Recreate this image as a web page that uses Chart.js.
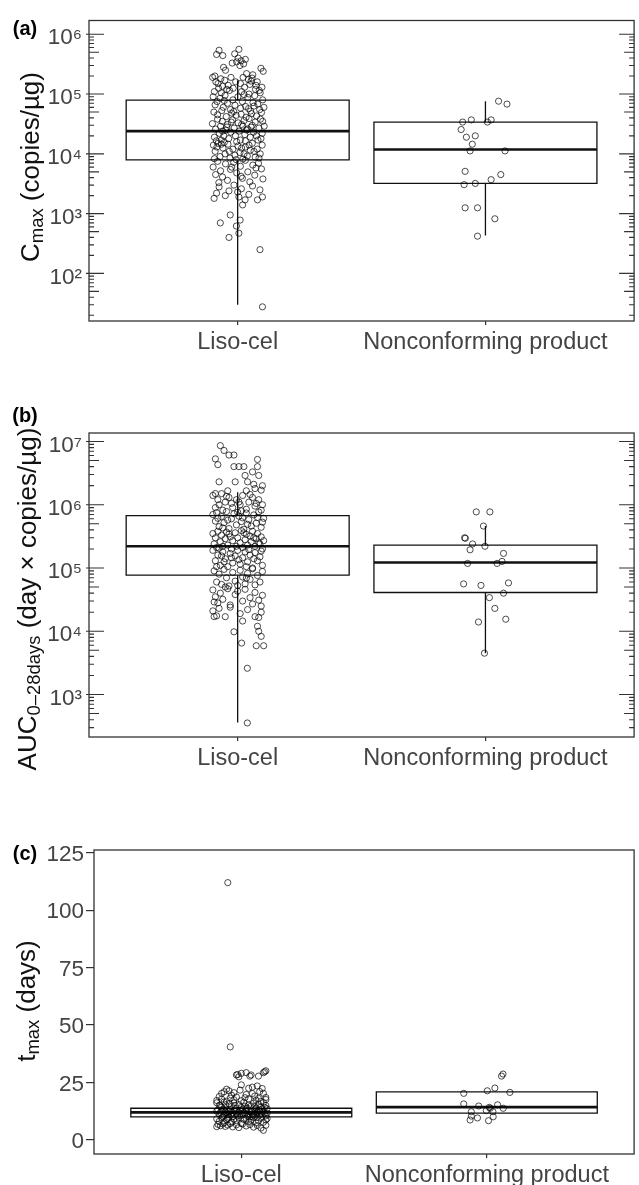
<!DOCTYPE html>
<html><head><meta charset="utf-8">
<script src="https://cdn.jsdelivr.net/npm/chart.js@4.4.1/dist/chart.umd.min.js"></script>
<style>
html,body{margin:0;padding:0;background:#fff;}
body{width:639px;height:1185px;position:relative;overflow:hidden;font-family:"Liberation Sans",Arial,sans-serif;}
.pc{position:absolute;left:0;width:639px;}
.pc canvas{display:block;}
.lab{position:absolute;font-weight:bold;font-size:20px;color:#000;transform:translate(-50%,-50%);line-height:1;white-space:nowrap;}
.ytitle{position:absolute;white-space:nowrap;font-size:26px;color:#111;transform:translate(-50%,-50%) rotate(-90deg);line-height:1;}
.ytitle sub{font-size:0.71em;vertical-align:-4px;line-height:0;}
</style></head>
<body>
<div class="pc" style="top:0;height:370px"><canvas id="cA" width="639" height="370" style="width:639px;height:370px"></canvas></div>
<div class="pc" style="top:370px;height:410px"><canvas id="cB" width="639" height="410" style="width:639px;height:410px"></canvas></div>
<div class="pc" style="top:780px;height:405px"><canvas id="cC" width="639" height="405" style="width:639px;height:405px"></canvas></div>

<div class="lab" style="left:25px;top:28px">(a)</div>
<div class="lab" style="left:25px;top:415px">(b)</div>
<div class="lab" style="left:25px;top:853px">(c)</div>

<div class="ytitle" style="left:30px;top:167px">C<sub>max</sub> (copies/µg)</div>
<div class="ytitle" style="left:27px;top:599px">AUC<sub>0–28days</sub> (day × copies/µg)</div>
<div class="ytitle" style="left:26px;top:1001px">t<sub>max</sub> (days)</div>

<script>
// ---------------- data ----------------
const categories = ['Liso-cel', 'Nonconforming product'];
const categoryPositions = [1, 2];

const cmaxMajorTicks = [1e2, 1e3, 1e4, 1e5, 1e6];
const aucMajorTicks = [1e3, 1e4, 1e5, 1e6, 1e7];
const tmaxTicks = [0, 25, 50, 75, 100, 125];

const cmaxRange = [16, 1.7e6];
const aucRange = [213, 1.36e7];
const tmaxRange = [-6.1, 126.2];

// box statistics: [lower whisker, Q1, median, Q3, upper whisker]
const cmaxBoxLiso = [30, 7.9e3, 2.4e4, 7.9e4, 1.7e5];
const cmaxBoxNon = [430, 3.2e3, 1.18e4, 3.4e4, 7.6e4];
const aucBoxLiso = [360, 7.7e4, 2.2e5, 6.7e5, 1.57e6];
const aucBoxNon = [4.5e3, 4.1e4, 1.22e5, 2.3e5, 4.6e5];
const tmaxBoxLiso = [null, 10.1, 12.0, 13.8, null];
const tmaxBoxNon = [null, 11.7, 14.3, 20.9, null];

// jittered observations: [horizontal jitter (category units), value]
const cmaxLiso = [
[-0.075,5.4e5],[-0.085,4.6e5],[-0.060,4.4e5],[0.005,5.6e5],[-0.012,4.7e5],[0.002,4.0e5],[0.014,3.6e5],[-0.022,3.3e5],[0.031,3.8e5],[0.024,3.2e5],[0.009,3.0e5],[-0.004,3.45e5],
[-0.057,2.8e5],[-0.049,2.5e5],[0.094,2.7e5],[0.103,2.4e5],[0.036,2.2e5],[-0.092,2.0e5],[0.061,2.1e5],
[-0.101,1.9e5],[-0.088,1.6e5],[-0.079,1.5e5],[-0.068,1.8e5],[-0.061,1.35e5],[-0.052,1.7e5],[-0.038,1.4e5],[-0.027,1.9e5],[-0.018,1.25e5],[-0.008,1.6e5],
[0.011,1.5e5],[0.022,1.9e5],[0.028,1.3e5],[0.043,1.75e5],[0.049,1.45e5],[0.058,1.85e5],[0.072,1.2e5],[0.079,1.6e5],[0.091,1.05e5],[0.098,1.3e5],
[-0.094,1.1e5],[-0.066,1.05e5],[-0.033,1.15e5],[0.016,1.1e5],[0.046,1.0e5],[0.074,1.4e5],[0.087,1.15e5],[-0.044,1.2e5],[-0.077,1.25e5],[0.054,1.65e5],
[-0.099,9e4],[-0.083,7.5e4],[-0.071,8.5e4],[-0.058,6e4],[-0.051,9.5e4],[-0.041,7e4],[-0.029,5.5e4],[-0.019,8e4],[-0.011,6.5e4],[0.001,9e4],
[0.012,5.8e4],[0.019,7.5e4],[0.032,6.2e4],[0.041,8.8e4],[0.052,5.2e4],[0.062,7.2e4],[0.069,9.4e4],[0.081,6.8e4],[0.089,5.5e4],[0.101,8e4],
[-0.096,5e4],[-0.081,4.5e4],[-0.064,5.3e4],[-0.046,4.2e4],[-0.024,4.8e4],[-0.006,4.4e4],[0.014,4.6e4],[0.034,4.1e4],[0.056,4.7e4],[0.076,4.3e4],
[0.096,4.9e4],[0.106,6e4],[-0.054,7.8e4],[0.026,9.8e4],[0.066,6.3e4],[-0.016,5.1e4],[0.044,5.7e4],[-0.091,6.6e4],
[-0.102,3.2e4],[-0.089,2.6e4],[-0.081,3.8e4],[-0.074,2.2e4],[-0.069,2.9e4],[-0.062,3.5e4],[-0.056,2.0e4],[-0.048,2.5e4],[-0.041,3.1e4],[-0.036,1.8e4],
[-0.028,2.3e4],[-0.021,3.7e4],[-0.014,2.7e4],[-0.009,2.0e4],[0.002,3.3e4],[0.006,2.4e4],[0.011,1.7e4],[0.021,2.9e4],[0.026,3.6e4],[0.029,2.1e4],
[0.039,2.6e4],[0.046,3.9e4],[0.051,1.9e4],[0.059,3.0e4],[0.064,2.3e4],[0.071,3.4e4],[0.082,1.7e4],[0.086,2.7e4],[0.092,3.8e4],[0.099,2.2e4],
[0.107,2.9e4],[-0.094,1.9e4],[-0.086,1.65e4],[-0.066,1.7e4],[-0.044,2.8e4],[-0.026,3.4e4],[-0.004,1.6e4],[0.016,3.1e4],[0.036,2.5e4],[0.054,2.8e4],
[0.076,2.0e4],[0.094,1.8e4],[0.101,3.5e4],[-0.061,2.4e4],[0.031,1.65e4],
[-0.098,1.4e4],[-0.091,1.1e4],[-0.079,1.5e4],[-0.071,9e3],[-0.059,1.25e4],[-0.051,1.0e4],[-0.039,1.45e4],[-0.031,8.5e3],[-0.019,1.2e4],[-0.011,9.5e3],
[0.001,1.35e4],[0.009,1.05e4],[0.021,8.2e3],[0.031,1.3e4],[0.039,9.2e3],[0.051,1.15e4],[0.059,1.5e4],[0.071,8.8e3],[0.079,1.2e4],[0.091,1.0e4],
[0.099,1.4e4],[-0.094,8.3e3],[-0.084,1.3e4],[-0.066,1.45e4],[-0.034,1.1e4],[-0.006,8e3],[0.026,1.0e4],[0.046,1.4e4],[0.066,1.1e4],[0.086,8.5e3],
[-0.054,1.55e4],[0.016,1.25e4],
[-0.099,6e3],[-0.089,4.5e3],[-0.081,7.5e3],[-0.069,5.2e3],[-0.061,4.1e3],[-0.049,6.8e3],[-0.041,3.6e3],[-0.029,5.5e3],[-0.016,7.2e3],[-0.004,4.8e3],
[0.011,6.2e3],[0.019,3.9e3],[0.031,7.8e3],[0.041,5.0e3],[0.049,3.4e3],[0.061,6.5e3],[0.069,4.4e3],[0.084,7.0e3],[0.096,5.6e3],[0.102,3.8e3],
[-0.076,3.3e3],[0.014,4.2e3],[-0.024,6.0e3],[0.074,5.8e3],
[-0.095,1.8e3],[-0.085,2.2e3],[-0.075,2.8e3],[-0.050,2.0e3],[-0.035,2.4e3],[-0.015,3.0e3],[0.000,2.3e3],[0.005,1.9e3],[0.015,2.6e3],[0.030,1.7e3],
[0.045,2.1e3],[0.060,2.9e3],[0.080,1.7e3],[0.090,2.5e3],[0.100,1.9e3],[0.020,1.4e3],
[-0.030,950],[-0.070,700],[0.010,780],[-0.005,620],[0.005,470],[-0.035,400],[0.090,250],[0.100,27.6]
];
const cmaxNon = [
[0.053,7.6e4],[0.087,6.8e4],[-0.092,3.4e4],[-0.057,3.7e4],[0.008,3.4e4],[0.023,3.7e4],[-0.098,2.55e4],[-0.077,1.9e4],[-0.041,2.0e4],[-0.053,1.45e4],
[-0.062,1.12e4],[0.079,1.12e4],[-0.082,5.1e3],[0.062,4.5e3],[0.023,3.7e3],[-0.086,3.05e3],[-0.041,3.2e3],[-0.082,1.25e3],[-0.032,1.25e3],[0.038,820],[-0.032,420]
];

const aucLiso = [
[-0.070,8.6e6],[-0.055,7.2e6],[-0.035,6.1e6],[-0.015,6.1e6],[-0.090,5.3e6],[-0.080,4.3e6],[0.080,5.2e6],[-0.015,4.0e6],[0.005,4.0e6],[0.025,4.0e6],[0.080,4.0e6],[0.060,3.3e6],
[0.030,2.9e6],[0.085,2.9e6],[-0.075,2.3e6],[-0.010,2.3e6],[0.040,2.3e6],[0.100,2.0e6],[0.065,2.1e6],[0.035,1.66e6],[-0.040,1.66e6],[-0.090,1.5e6],[0.095,1.7e6],[0.070,1.8e6],
[-0.100,1.4e6],[-0.080,1.2e6],[-0.065,1.5e6],[-0.050,1.1e6],[-0.035,1.3e6],[-0.020,9e5],[-0.005,1.2e6],[0.010,1.0e6],[0.020,1.4e6],[0.035,8.5e5],
[0.045,1.1e6],[0.060,1.3e6],[0.070,9.5e5],[0.085,1.2e6],[0.095,8.2e5],[0.100,1.0e6],[-0.090,9e5],[-0.060,8.2e5],[-0.025,1.05e6],[0.015,8e5],
[0.050,1.45e6],[0.075,1.05e6],[-0.045,1.35e6],[0.005,1.1e6],[-0.075,1.0e6],
[-0.100,7e5],[-0.090,5.5e5],[-0.085,7.5e5],[-0.075,4.5e5],[-0.065,6.5e5],[-0.055,5.2e5],[-0.045,7.8e5],[-0.035,4.2e5],[-0.025,6e5],[-0.015,7.2e5],
[-0.005,4.8e5],[0.005,6.6e5],[0.015,5.4e5],[0.025,4.1e5],[0.035,7.4e5],[0.045,5.8e5],[0.055,4.6e5],[0.065,6.9e5],[0.075,5.1e5],[0.085,7.7e5],
[0.095,4.4e5],[0.105,6.1e5],[-0.080,6.1e5],[-0.040,5.7e5],[0.000,7.6e5],[0.040,4.9e5],[0.080,6.3e5],[-0.060,4.3e5],[0.020,6.2e5],[0.100,5.3e5],
[-0.100,3.5e5],[-0.095,2.4e5],[-0.090,3e5],[-0.085,2.1e5],[-0.080,3.8e5],[-0.070,2.6e5],[-0.065,3.3e5],[-0.060,2.2e5],[-0.050,2.9e5],[-0.045,3.7e5],
[-0.040,2.3e5],[-0.030,3.1e5],[-0.025,2.0e5],[-0.020,2.7e5],[-0.010,3.6e5],[-0.005,2.2e5],[0.000,3.0e5],[0.010,2.5e5],[0.015,3.9e5],[0.020,2.1e5],
[0.030,2.8e5],[0.035,3.4e5],[0.040,2.3e5],[0.050,3.2e5],[0.055,2.6e5],[0.060,3.8e5],[0.070,2.2e5],[0.075,2.9e5],[0.080,3.5e5],[0.090,2.4e5],
[0.095,3.1e5],[0.100,2.0e5],[0.105,2.7e5],[-0.075,2.05e5],[-0.035,3.45e5],[0.025,3.6e5],[0.065,3.0e5],[0.085,2.5e5],
[-0.100,1.9e5],[-0.090,1.3e5],[-0.080,1.6e5],[-0.070,1.1e5],[-0.060,1.8e5],[-0.050,1.4e5],[-0.040,1.05e5],[-0.030,1.7e5],[-0.020,1.2e5],[-0.010,1.55e5],
[0.000,1.9e5],[0.010,1.15e5],[0.020,1.45e5],[0.030,1.8e5],[0.040,1.25e5],[0.050,1.6e5],[0.060,1.0e5],[0.070,1.75e5],[0.080,1.3e5],[0.090,1.5e5],
[0.100,1.1e5],[-0.085,1.05e5],[-0.055,1.25e5],[-0.025,1.45e5],[0.005,1.35e5],[0.035,1.05e5],[0.065,1.4e5],[0.095,1.85e5],[-0.065,1.55e5],[0.045,1.95e5],
[-0.095,9e4],[-0.085,6e4],[-0.075,8e4],[-0.065,5.5e4],[-0.055,9.5e4],[-0.045,7e4],[-0.035,5.2e4],[-0.020,8.5e4],[-0.010,6.2e4],[0.000,5.3e4],
[0.010,9.2e4],[0.020,7.2e4],[0.030,5.6e4],[0.040,8.2e4],[0.050,6.6e4],[0.060,9.7e4],[0.070,5.4e4],[0.080,7.6e4],[0.090,6.0e4],[0.100,8.8e4],
[-0.050,5.0e4],[0.035,6.9e4],
[-0.100,4.5e4],[-0.090,3.5e4],[-0.080,2.8e4],[-0.070,4.0e4],[-0.060,3.2e4],[-0.040,4.7e4],[-0.030,2.6e4],[-0.010,3.8e4],[0.000,4.3e4],[0.020,3.0e4],
[0.030,4.6e4],[0.050,3.4e4],[0.060,2.7e4],[0.070,4.1e4],[0.085,3.1e4],[0.095,2.5e4],[0.100,3.7e4],[-0.095,2.9e4],
[-0.100,2.1e4],[-0.095,1.7e4],[-0.085,1.75e4],[-0.075,2.3e4],[-0.050,1.7e4],[-0.030,2.4e4],[0.010,1.9e4],[0.040,2.2e4],[0.070,1.7e4],[0.085,1.65e4],
[0.095,2.0e4],[0.020,1.45e4],
[-0.015,9.8e3],[0.080,1.2e4],[0.085,1.0e4],[0.095,8.3e3],[0.016,6.5e3],[0.075,5.9e3],[0.105,5.9e3],[0.039,2.6e3],[0.039,355]
];
const aucNon = [
[-0.037,7.7e5],[0.018,7.7e5],[-0.008,4.6e5],[-0.084,3.0e5],[-0.081,2.95e5],[-0.052,2.4e5],[-0.062,1.94e5],[-0.002,2.2e5],[0.073,1.7e5],[-0.072,1.18e5],
[0.047,1.18e5],[0.067,1.27e5],[-0.088,5.6e4],[-0.018,5.3e4],[0.093,5.8e4],[0.073,4.0e4],[0.016,3.4e4],[0.038,2.3e4],[-0.028,1.4e4],[0.082,1.55e4],[-0.004,4.5e3]
];

const tmaxLiso = [
[-0.055,112],[-0.045,40.5],
[-0.020,28.3],[0.000,29.0],[0.020,29.3],[-0.010,27.5],[0.040,28.3],[0.070,27.8],[0.100,30.1],[0.090,29.3],[-0.015,28.5],[0.035,27.8],[0.095,29.7],
[-0.080,20.3],[-0.070,21.0],[-0.050,21.4],[-0.030,20.6],[-0.005,21.7],[0.030,22.5],[0.045,20.2],[0.065,23.5],[0.075,21.1],[0.090,20.3],
[0.000,24.0],[-0.040,19.5],[-0.020,18.7],[0.055,19.1],[0.085,22.4],[-0.090,18.9],[0.020,19.8],[0.100,18.5],[-0.060,22.1],[0.045,23.0],
[-0.100,17.2],[-0.080,17.8],[-0.060,16.9],[-0.030,17.5],[0.000,17.1],[0.030,17.9],[0.060,17.3],[0.080,16.8],[0.100,17.6],[-0.045,18.2],[0.015,18.4],[0.070,18.1],
[-0.100,16.2],[-0.090,15.1],[-0.080,14.3],[-0.070,16.5],[-0.060,13.2],[-0.050,15.8],[-0.040,14.6],[-0.030,16.1],[-0.020,13.7],[-0.010,15.4],[0.000,14.1],
[0.010,16.4],[0.020,13.5],[0.030,15.2],[0.040,14.8],[0.050,16.0],[0.060,13.9],[0.070,15.6],[0.080,14.4],[0.090,16.3],[0.100,15.0],[0.105,13.6],
[-0.100,12.5],[-0.090,11.2],[-0.080,12.9],[-0.070,10.6],[-0.060,11.8],[-0.050,12.3],[-0.040,10.9],[-0.030,12.7],[-0.020,11.4],[-0.010,12.1],[0.000,10.7],
[0.010,11.9],[0.020,12.6],[0.030,11.1],[0.040,12.4],[0.050,10.8],[0.060,11.6],[0.070,12.8],[0.080,11.3],[0.090,12.2],[0.100,10.5],[0.105,11.7],
[-0.095,13.1],[-0.085,12.0],[-0.075,13.4],[-0.065,12.2],[-0.055,11.0],[-0.045,13.3],[-0.035,11.9],[-0.025,13.0],[-0.015,10.4],[-0.005,12.9],
[0.005,13.2],[0.015,11.5],[0.025,13.8],[0.035,12.3],[0.045,10.2],[0.055,13.1],[0.065,12.0],[0.075,10.9],[0.085,13.5],[0.095,11.8],
[-0.100,9.2],[-0.090,8.1],[-0.080,9.6],[-0.070,7.5],[-0.060,8.8],[-0.050,9.9],[-0.040,7.8],[-0.030,9.1],[-0.020,8.4],[-0.010,9.7],[0.000,7.2],
[0.010,8.9],[0.020,9.4],[0.030,7.9],[0.040,8.6],[0.050,9.8],[0.060,7.4],[0.070,8.3],[0.080,9.5],[0.090,7.7],[0.100,8.7],[0.105,9.3],
[-0.095,6.8],[-0.085,6.2],[-0.075,7.0],[-0.065,5.9],[-0.055,6.5],[-0.045,7.1],[-0.035,5.7],[-0.020,6.6],[-0.010,5.4],
[0.005,6.9],[0.020,6.1],[0.035,6.7],[0.050,5.6],[0.065,6.3],[0.080,5.2],[0.090,4.2],[0.100,6.4],[-0.100,5.8],
[-0.085,14.9],[-0.065,15.3],[-0.045,12.6],[-0.025,14.9],[-0.005,11.3],[0.015,14.7],[0.035,10.0],[0.055,14.5],[0.075,12.5],[0.095,14.2],
[-0.075,10.2],[-0.035,10.1],[0.025,10.3],[0.065,9.9],[-0.055,9.4],[0.045,11.4]
];
const tmaxNon = [
[0.066,28.7],[0.060,27.8],[-0.094,20.3],[0.002,21.4],[0.033,22.6],[0.094,20.7],[-0.094,15.7],[-0.033,14.8],[0.010,14.2],[0.044,15.3],
[0.067,13.8],[-0.063,12.3],[-0.002,12.8],[0.025,12.3],[-0.068,8.7],[-0.038,9.6],[0.007,8.4],[0.026,10.1],[-0.063,10.4],[0.014,13.8]
];

// ---------------- helpers ----------------
const FONT = '"Liberation Sans", Arial, "DejaVu Sans", sans-serif';
const SUP = {'0':'⁰','1':'¹','2':'²','3':'³','4':'⁴','5':'⁵','6':'⁶','7':'⁷','8':'⁸','9':'⁹'};
function isPow10(v){ const l = Math.log10(v); return Math.abs(l - Math.round(l)) < 1e-9; }
function pow10Label(v){ return '10' + String(Math.round(Math.log10(v))).split('').map(c => SUP[c]).join(''); }
function logTicksBetween(lo, hi){
  const out = [];
  for (let e = Math.floor(Math.log10(lo)); e <= Math.ceil(Math.log10(hi)); e++) {
    for (let m = 1; m <= 9; m++) {
      const v = m * Math.pow(10, e);
      if (v >= lo && v <= hi) out.push(v);
    }
  }
  return out;
}
const HALF = 0.45;
function boxDatasets(stats, pos){
  const [lo, q1, md, q3, hi] = stats;
  const base = {showLine:true, pointRadius:0, borderColor:'#111', borderWidth:1.3, fill:false, tension:0,
    borderCapStyle:'square', borderJoinStyle:'miter', order:2};
  const ds = [
    {...base, data:[{x:pos-HALF,y:q1},{x:pos+HALF,y:q1},{x:pos+HALF,y:q3},{x:pos-HALF,y:q3},{x:pos-HALF,y:q1}]},
    {...base, borderWidth:2.6, borderCapStyle:'butt', data:[{x:pos-HALF,y:md},{x:pos+HALF,y:md}]}
  ];
  if (lo != null) ds.push({...base, borderCapStyle:'butt', data:[{x:pos,y:lo},{x:pos,y:q1}]});
  if (hi != null) ds.push({...base, borderCapStyle:'butt', data:[{x:pos,y:q3},{x:pos,y:hi}]});
  return ds;
}
function pointDataset(points, pos){
  return {data: points.map(p => ({x: pos + p[0], y: p[1]})), showLine:false,
    pointRadius:3.1, pointBorderWidth:0.9, pointBorderColor:'rgba(0,0,0,0.78)',
    pointBackgroundColor:'rgba(0,0,0,0)', borderColor:'rgba(0,0,0,0.78)', backgroundColor:'rgba(0,0,0,0)', order:1};
}

const framePlugin = {
  id:'frame',
  beforeDatasetsDraw(chart){
    const {ctx, chartArea:a} = chart;
    ctx.save(); ctx.strokeStyle = '#333'; ctx.lineWidth = 1.3;
    ctx.strokeRect(a.left, a.top, a.right - a.left, a.bottom - a.top);
    ctx.restore();
  }
};
const logTickPlugin = {
  id:'logticks',
  afterDraw(chart, args, opts){
    if (!opts || !opts.enabled) return;
    const s = chart.scales.y, a = chart.chartArea, ctx = chart.ctx;
    ctx.save(); ctx.strokeStyle = '#333'; ctx.lineWidth = 1.1;
    s.ticks.forEach(t => {
      const v = t.value, y = s.getPixelForValue(v);
      if (y < a.top - 0.5 || y > a.bottom + 0.5) return;
      const m = Math.round(v / Math.pow(10, Math.floor(Math.log10(v) + 1e-9)));
      const major = isPow10(v);
      const len = major ? 15 : (m === 5 ? 10 : 5);
      const out = major ? 3 : 0;
      ctx.beginPath();
      ctx.moveTo(a.left - out, y); ctx.lineTo(a.left + len, y);
      ctx.moveTo(a.right - len, y); ctx.lineTo(a.right, y);
      ctx.stroke();
    });
    ctx.restore();
  }
};

function xScale(xh){
  return {type:'linear', min:0.4, max:2.6, bounds:'data',
    afterBuildTicks: s => { s.ticks = categoryPositions.map(v => ({value:v})); },
    afterFit: s => { s.height = xh; },
    ticks:{autoSkip:false, maxRotation:0, padding:3, color:'#444', font:{family:FONT, size:23.5},
      callback: v => { const i = categoryPositions.indexOf(v); return i >= 0 ? categories[i] : ''; }},
    grid:{display:true, drawOnChartArea:false, drawTicks:true, tickLength:4, color:'#333', lineWidth:1.2},
    border:{display:false}};
}
function logYScale(range){
  return {type:'logarithmic', min:range[0], max:range[1], bounds:'data',
    afterBuildTicks: s => { s.ticks = logTicksBetween(range[0], range[1]).map(v => ({value:v})); },
    afterFit: s => { s.width = 89; },
    ticks:{autoSkip:false, padding:7, labelOffset:4, color:'#444', font:{family:FONT, size:22.5},
      callback: v => isPow10(v) ? pow10Label(v) : ''},
    grid:{display:false, drawTicks:false},
    border:{display:false}};
}
function linYScale(range, ticks){
  return {type:'linear', min:range[0], max:range[1], bounds:'data',
    afterBuildTicks: s => { s.ticks = ticks.map(v => ({value:v})); },
    afterFit: s => { s.width = 94; },
    ticks:{autoSkip:false, padding:2, labelOffset:2, color:'#444', font:{family:FONT, size:22.5},
      callback: v => String(v)},
    grid:{display:true, drawOnChartArea:false, drawTicks:true, tickLength:8, color:'#333', lineWidth:1.2},
    border:{display:false}};
}
function makeChart(id, datasets, top, x, y, log){
  return new Chart(document.getElementById(id), {
    type:'scatter',
    data:{datasets},
    options:{
      responsive:false, animation:false, events:[],
      layout:{padding:{top:top, right:1, left:0, bottom:0}},
      plugins:{legend:{display:false}, tooltip:{enabled:false}, logticks:{enabled:log}},
      scales:{x:x, y:y}
    },
    plugins:[framePlugin, logTickPlugin]
  });
}

makeChart('cA', [
  pointDataset(cmaxLiso, 1), pointDataset(cmaxNon, 2),
  ...boxDatasets(cmaxBoxLiso, 1), ...boxDatasets(cmaxBoxNon, 2)
], 16, xScale(49), logYScale(cmaxRange), true);

makeChart('cB', [
  pointDataset(aucLiso, 1), pointDataset(aucNon, 2),
  ...boxDatasets(aucBoxLiso, 1), ...boxDatasets(aucBoxNon, 2)
], 63, xScale(43), logYScale(aucRange), true);

makeChart('cC', [
  pointDataset(tmaxLiso, 1), pointDataset(tmaxNon, 2),
  ...boxDatasets(tmaxBoxLiso, 1), ...boxDatasets(tmaxBoxNon, 2)
], 70, xScale(31), linYScale(tmaxRange, tmaxTicks), false);
</script>
</body></html>
